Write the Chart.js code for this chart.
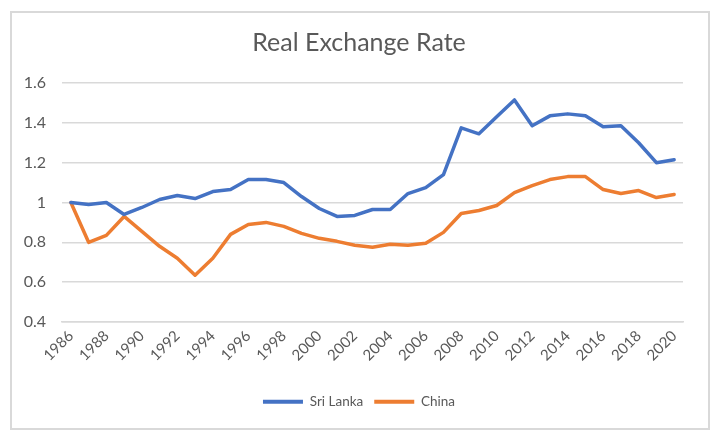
<!DOCTYPE html>
<html>
<head>
<meta charset="utf-8">
<script src="https://cdn.jsdelivr.net/npm/chart.js@4/dist/chart.umd.min.js"></script>
<style>
  html, body { margin: 0; padding: 0; background: #fff; }
  #wrap { position: relative; width: 718px; height: 438px; }
  #frame { position: absolute; left: 10px; top: 11px; width: 700px; height: 419px; border: 2px solid #D9D9D9; box-sizing: border-box; }
  canvas { position: absolute; left: 0; top: 0; }
</style>
</head>
<body>
<div id="wrap">
  <div id="frame"></div>
  <canvas id="c" width="718" height="438" style="width:718px;height:438px"></canvas>
</div>
<script>
const years = ['1986','1987','1988','1989','1990','1991','1992','1993','1994','1995','1996','1997','1998','1999','2000','2001','2002','2003','2004','2005','2006','2007','2008','2009','2010','2011','2012','2013','2014','2015','2016','2017','2018','2019','2020'];
const sriLanka = [1.00,0.99,1.00,0.94,0.975,1.015,1.035,1.02,1.055,1.065,1.115,1.115,1.10,1.03,0.97,0.93,0.935,0.965,0.965,1.045,1.075,1.14,1.375,1.345,1.43,1.515,1.385,1.435,1.445,1.435,1.38,1.385,1.30,1.20,1.215];
const china = [1.00,0.80,0.835,0.93,0.855,0.78,0.72,0.635,0.72,0.84,0.89,0.90,0.88,0.845,0.82,0.805,0.785,0.775,0.79,0.785,0.795,0.85,0.945,0.96,0.985,1.05,1.085,1.115,1.13,1.13,1.065,1.045,1.06,1.025,1.04];
const seriesNames = ['Sri Lanka','China'];
const titleText = 'Real Exchange Rate';

const FONT = 'Lato, "Open Sans", sans-serif';
const TXT = '#595959';
const GRID = '#D9D9D9';
const BLUE = '#4472C4';
const ORANGE = '#ED7D31';

new Chart(document.getElementById('c'), {
  type: 'line',
  data: {
    labels: years,
    datasets: [
      { label: seriesNames[0], data: sriLanka, borderColor: BLUE, backgroundColor: BLUE, borderWidth: 3.5, pointRadius: 0, tension: 0, borderCapStyle: 'round', borderJoinStyle: 'round' },
      { label: seriesNames[1], data: china, borderColor: ORANGE, backgroundColor: ORANGE, borderWidth: 3.5, pointRadius: 0, tension: 0, borderCapStyle: 'round', borderJoinStyle: 'round' }
    ]
  },
  options: {
    responsive: false,
    animation: false,
    devicePixelRatio: 1,
    layout: { padding: { left: 10, right: 10, top: 0, bottom: 19.5 } },
    plugins: {
      title: {
        display: true, text: titleText, color: TXT,
        font: { family: FONT, size: 25, weight: 'normal', lineHeight: 1.2 },
        padding: { top: 28, bottom: 25 }
      },
      legend: {
        display: true, position: 'bottom',
        labels: {
          color: TXT, font: { family: FONT, size: 13.5 }, boxWidth: 40, boxHeight: 4, padding: 11,
          generateLabels: (chart) => Chart.defaults.plugins.legend.labels.generateLabels(chart).map(l => Object.assign(l, { lineWidth: 0 }))
        }
      },
      tooltip: { enabled: false }
    },
    scales: {
      x: {
        offset: true,
        grid: { display: false, drawTicks: false },
        border: { display: true, color: GRID, width: 1.5 },
        ticks: {
          color: TXT, font: { family: FONT, size: 15 }, autoSkip: false, maxRotation: 45, minRotation: 45, padding: 5,
          callback: function(v, i) { return i % 2 === 0 ? this.getLabelForValue(v) : ''; }
        },
        afterFit: (s) => { s.height = 62; }
      },
      y: {
        min: 0.4, max: 1.6,
        grid: { color: GRID, lineWidth: 1.5, drawTicks: false },
        border: { display: false },
        ticks: {
          stepSize: 0.2, color: TXT, font: { family: FONT, size: 16 }, padding: 16,
          callback: (v) => String(+v.toFixed(1))
        },
        afterFit: (s) => { s.width = 52; }
      },
      yRight: {
        position: 'right', display: true, min: 0.4, max: 1.6,
        grid: { display: false, drawTicks: false },
        border: { display: false },
        ticks: { display: false },
        afterFit: (s) => { s.width = 25; }
      }
    }
  }
});
</script>
</body>
</html>
